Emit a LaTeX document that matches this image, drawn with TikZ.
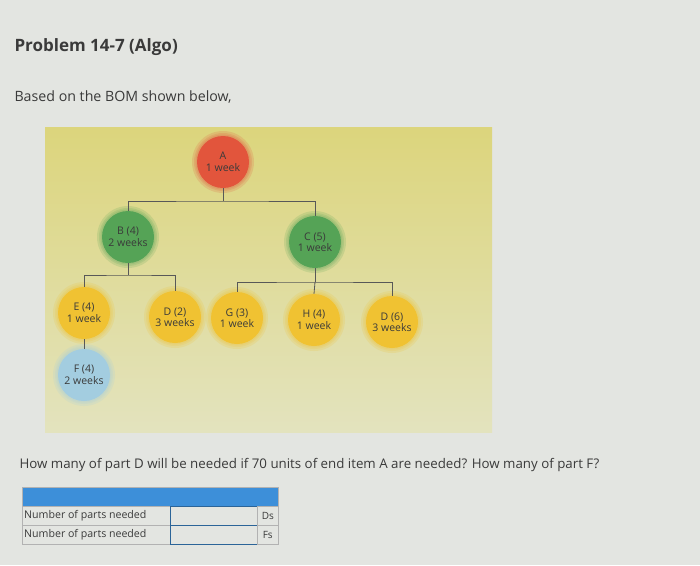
\documentclass[tikz,border=0pt]{standalone}
\usepackage{fontspec}
\setmainfont{Open Sans}
\usetikzlibrary{positioning}
\definecolor{bg}{HTML}{E3E5E1}
\definecolor{panelT}{HTML}{DCD57C}
\definecolor{panelB}{HTML}{E3E3BE}
\definecolor{redn}{HTML}{E2553C}
\definecolor{greenn}{HTML}{55A356}
\definecolor{yellown}{HTML}{F0C232}
\definecolor{bluen}{HTML}{A3CDE0}
\definecolor{ink}{HTML}{3A3A3A}
\definecolor{hdr}{HTML}{3D8FD9}
\begin{document}
\begin{tikzpicture}[x=1pt,y=-1pt,
  part/.style={circle,minimum size=52pt,inner sep=0pt,align=center,text=ink,
    font=\fontsize{10.5}{11.5}\selectfont},
  halo/.style={circle,inner sep=0pt,opacity=0.18},
  link/.style={draw=ink!85,line width=0.8pt},
  cell/.style={draw=gray!60,line width=0.6pt},
  incell/.style={draw=hdr!70!black,line width=0.9pt},
  txt/.style={anchor=west,text=ink}]
\useasboundingbox (0,0) rectangle (700,565);
\fill[bg] (0,0) rectangle (700,565);
% panel
\shade[top color=panelT,bottom color=panelB] (45,127) rectangle (492,432);
% texts
\node[txt,font=\fontsize{17}{20}\selectfont\bfseries] (title) at (11,47) {Problem 14-7 (Algo)};
\node[txt,font=\fontsize{14.2}{17}\selectfont] (intro) at (11,97) {Based on the BOM shown below,};
\node[txt,font=\fontsize{13.3}{16}\selectfont] (q) at (16,465) {How many of part D will be needed if 70 units of end item A are needed? How many of part F?};
% halos
\foreach \x/\y/\c in {223/162/redn,128/237/greenn,315/242/greenn,84/313/yellown,175/317/yellown,237/318/yellown,314/320/yellown,392/322/yellown,84/375/bluen}{
  \node[halo,fill=\c,minimum size=62pt] at (\x,\y) {};
  \node[halo,fill=\c,minimum size=58pt] at (\x,\y) {};
  \node[halo,fill=\c,minimum size=55pt] at (\x,\y) {};}
% nodes
\node[part,fill=redn] (A) at (223,162) {A\\1 week};
\node[part,fill=greenn] (B) at (128,237) {B (4)\\2 weeks};
\node[part,fill=greenn] (C) at (315,242) {C (5)\\1 week};
\node[part,fill=yellown] (E) at (84,313) {E (4)\\1 week};
\node[part,fill=yellown] (D2) at (175,317) {D (2)\\3 weeks};
\node[part,fill=yellown] (G) at (237,318) {G (3)\\1 week};
\node[part,fill=yellown] (H) at (314,320) {H (4)\\1 week};
\node[part,fill=yellown] (D6) at (392,322) {D (6)\\3 weeks};
\node[part,fill=bluen] (F) at (84,375) {F (4)\\2 weeks};
% connectors
\coordinate (ja) at (223,201);
\coordinate (jb) at (128,275);
\coordinate (jc) at (315,282);
\draw[link] (A.south) -- (ja);
\draw[link] (B.north) |- (ja) -| (C.north);
\draw[link] (B.south) -- (jb);
\draw[link] (E.north) |- (jb) -| (D2.north);
\draw[link] (C.south) -- (jc);
\draw[link] (G.north) |- (jc) -| (D6.north);
\draw[link] (H.north) -- (jc);
\draw[link] (E.south) -- (F.north);
% table
\fill[hdr] (22,487) rectangle (278,506);
\draw[gray!60,line width=0.6pt] (22,487) rectangle (278,506);
\node[cell,minimum width=148pt,minimum height=19pt,anchor=north west,inner sep=0pt] (l1) at (22,506) {};
\node[cell,minimum width=148pt,minimum height=19pt,anchor=north west,inner sep=0pt] (l2) at (22,525) {};
\node[incell,minimum width=87pt,minimum height=19pt,anchor=north west,inner sep=0pt] (i1) at (170,506) {};
\node[incell,minimum width=87pt,minimum height=19pt,anchor=north west,inner sep=0pt] (i2) at (170,525) {};
\node[cell,minimum width=21pt,minimum height=19pt,anchor=north west,inner sep=0pt] (u1) at (257,506) {};
\node[cell,minimum width=21pt,minimum height=19pt,anchor=north west,inner sep=0pt] (u2) at (257,525) {};
\node[txt,font=\fontsize{10.6}{12}\selectfont,inner sep=2pt] at (l1.west) {Number of parts needed};
\node[txt,font=\fontsize{10.6}{12}\selectfont,inner sep=2pt] at (l2.west) {Number of parts needed};
\node[text=ink,font=\fontsize{10}{11}\selectfont] at (u1) {Ds};
\node[text=ink,font=\fontsize{10}{11}\selectfont] at (u2) {Fs};
\end{tikzpicture}
\end{document}
